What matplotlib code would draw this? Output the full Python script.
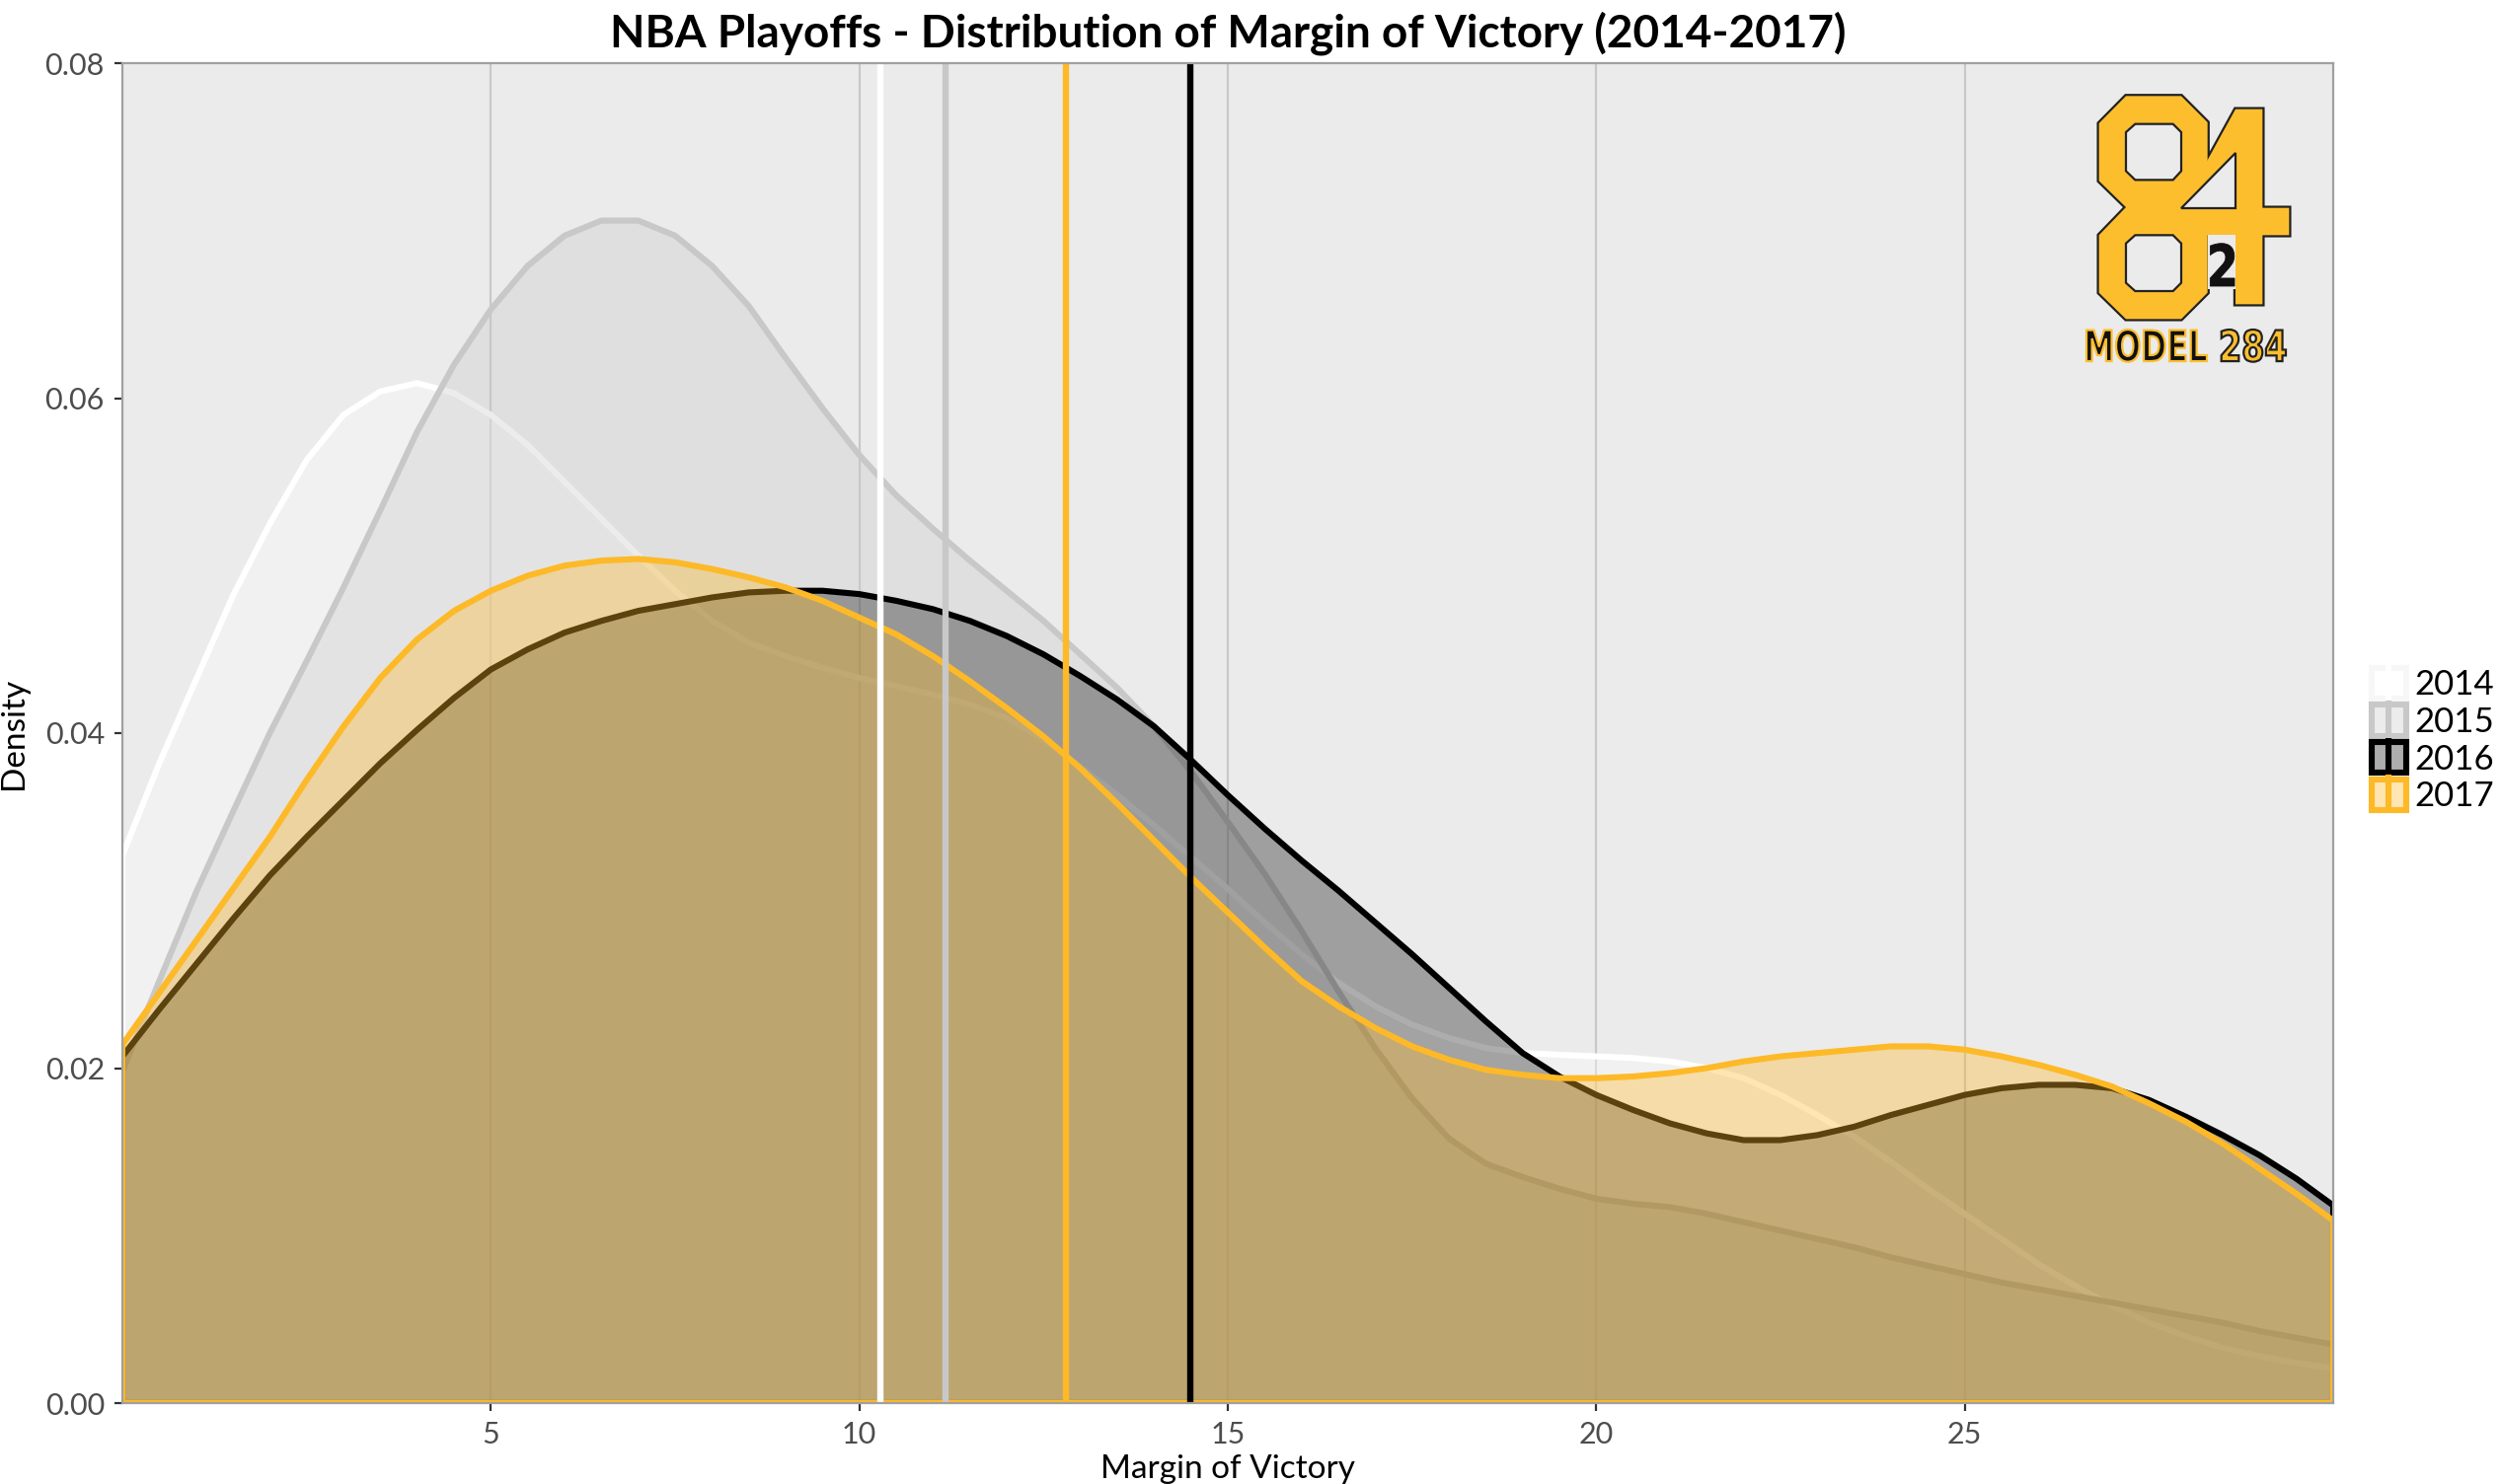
import numpy as np
import matplotlib
matplotlib.use("Agg")
import matplotlib.pyplot as plt
from matplotlib.colors import to_rgba
from matplotlib.patches import Patch, Polygon, PathPatch
from matplotlib.lines import Line2D
from matplotlib.legend_handler import HandlerTuple
from matplotlib.textpath import TextPath
from matplotlib.font_manager import FontProperties
from matplotlib.transforms import Affine2D

plt.rcParams['font.family'] = ['Lato', 'DejaVu Sans']

# density estimates, margin 0..30 in steps of 0.5
margin = list(np.arange(0, 30.5, 0.5))
d2014 = [0.0327, 0.0382, 0.0432, 0.0482, 0.0525, 0.0563, 0.0590, 0.0604, 0.0609, 0.0603,
         0.0590, 0.0572, 0.0550, 0.0528, 0.0506, 0.0485, 0.0467, 0.0454, 0.0446, 0.0439,
         0.0433, 0.0428, 0.0423, 0.0417, 0.0409, 0.0396, 0.0380, 0.0363, 0.0345, 0.0326,
         0.0307, 0.0287, 0.0268, 0.0251, 0.0237, 0.0226, 0.0218, 0.0212, 0.0209, 0.0208,
         0.0207, 0.0206, 0.0204, 0.0200, 0.0194, 0.0184, 0.0172, 0.0159, 0.0144, 0.0128,
         0.0113, 0.0098, 0.0083, 0.0070, 0.0058, 0.0048, 0.0040, 0.0033, 0.0028, 0.0024, 0.0021]
d2015 = [0.0198, 0.0252, 0.0305, 0.0353, 0.0400, 0.0443, 0.0487, 0.0533, 0.0580, 0.0620,
         0.0653, 0.0679, 0.0697, 0.0706, 0.0706, 0.0697, 0.0679, 0.0655, 0.0624, 0.0594,
         0.0566, 0.0542, 0.0522, 0.0503, 0.0485, 0.0467, 0.0447, 0.0427, 0.0404, 0.0377,
         0.0347, 0.0316, 0.0282, 0.0246, 0.0212, 0.0182, 0.0158, 0.0143, 0.0135, 0.0128,
         0.0122, 0.0119, 0.0117, 0.0113, 0.0108, 0.0103, 0.0098, 0.0093, 0.0087, 0.0082,
         0.0077, 0.0072, 0.0068, 0.0064, 0.0060, 0.0056, 0.0052, 0.0048, 0.0043, 0.0039, 0.0035]
d2016 = [0.0207, 0.0235, 0.0262, 0.0289, 0.0315, 0.0338, 0.0360, 0.0382, 0.0402, 0.0421,
         0.0438, 0.0450, 0.0460, 0.0467, 0.0473, 0.0477, 0.0481, 0.0484, 0.0485, 0.0485,
         0.0483, 0.0479, 0.0474, 0.0467, 0.0458, 0.0447, 0.0434, 0.0420, 0.0404, 0.0384,
         0.0363, 0.0343, 0.0324, 0.0306, 0.0287, 0.0268, 0.0248, 0.0228, 0.0209, 0.0195,
         0.0184, 0.0175, 0.0167, 0.0161, 0.0157, 0.0157, 0.0160, 0.0165, 0.0172, 0.0178,
         0.0184, 0.0188, 0.0190, 0.0190, 0.0188, 0.0181, 0.0171, 0.0160, 0.0148, 0.0134, 0.0118]
d2017 = [0.0214, 0.0245, 0.0276, 0.0307, 0.0338, 0.0372, 0.0404, 0.0433, 0.0456, 0.0473,
         0.0485, 0.0494, 0.0500, 0.0503, 0.0504, 0.0502, 0.0498, 0.0493, 0.0487, 0.0479,
         0.0469, 0.0459, 0.0446, 0.0431, 0.0415, 0.0398, 0.0379, 0.0358, 0.0336, 0.0314,
         0.0293, 0.0272, 0.0252, 0.0237, 0.0224, 0.0213, 0.0205, 0.0199, 0.0196, 0.0194,
         0.0194, 0.0195, 0.0197, 0.0200, 0.0204, 0.0207, 0.0209, 0.0211, 0.0213, 0.0213,
         0.0211, 0.0207, 0.0202, 0.0196, 0.0189, 0.0179, 0.0168, 0.0155, 0.0140, 0.0125, 0.0109]

seasons = ['2014', '2015', '2016', '2017']
densities = [d2014, d2015, d2016, d2017]
mean_margin = [10.28, 11.17, 14.49, 12.80]
colors = ['#FFFFFF', '#C8C8C8', '#000000', '#FDB927']
fill_alpha = [0.34, 0.34, 0.32, 0.36]

fig = plt.figure(figsize=(2534 / 200, 1504 / 200), dpi=200)
ax = fig.add_axes([124 / 2534, 1 - 1422 / 1504, 2240 / 2534, 1358 / 1504])
ax.set_facecolor('#EBEBEB')

for i, (dens, c, a) in enumerate(zip(densities, colors, fill_alpha)):
    xs = [margin[0]] + margin + [margin[-1]]
    ys = [0] + dens + [0]
    ax.fill(xs, ys, facecolor=to_rgba(c, a), edgecolor=c, lw=2.2,
            joinstyle='round', zorder=2 + i)

for i, (m, c) in enumerate(zip(mean_margin, colors)):
    ax.axvline(m, color=c, lw=2.3, zorder=10 + i)

ax.set_xlim(0, 30)
ax.set_ylim(0, 0.08)
ax.set_xticks([5, 10, 15, 20, 25])
ax.set_yticks([0, 0.02, 0.04, 0.06, 0.08])
ax.set_yticklabels(['0.00', '0.02', '0.04', '0.06', '0.08'])
ax.grid(axis='x', color='#C8C8C8', lw=0.8, zorder=1)
ax.set_axisbelow(True)
ax.tick_params(colors='#333333', labelcolor='#4D4D4D', labelsize=11, length=3, width=0.8)
for s in ax.spines.values():
    s.set_color('#A0A0A0')
    s.set_linewidth(0.8)
    s.set_zorder(20)

ax.set_xlabel('Margin of Victory', fontsize=12, labelpad=2)
ax.set_ylabel('Density', fontsize=12, labelpad=6)
ax.set_title('NBA Playoffs - Distribution of Margin of Victory (2014-2017)',
             fontsize=16.5, fontweight='bold', pad=6)

# legend: filled key with mean line through it
handles = []
for c, a in zip(colors, fill_alpha):
    key = Patch(facecolor=to_rgba(c, a), edgecolor='#F7F7F7' if c == '#FFFFFF' else c, lw=2.2)
    bar = Line2D([], [], color=c, marker='|', linestyle='None', markersize=13, markeredgewidth=2.2)
    handles.append((key, bar))
fig.legend(handles, seasons, handler_map={tuple: HandlerTuple(ndivide=1)},
           loc='center left', bbox_to_anchor=(2403 / 2534, 1 - 750 / 1504),
           frameon=False, fontsize=12.5, handlelength=1.0, handleheight=1.0,
           labelspacing=0.12, handletextpad=0.25, borderpad=0, borderaxespad=0)

# logo
lg = fig.add_axes([2080 / 2534, 1 - 390 / 1504, 280 / 2534, 330 / 1504])
lg.set_xlim(0, 840)
lg.set_ylim(990, 0)
lg.axis('off')
gold = '#FDBE2E'
bg = '#EBEBEB'
eight = [(140, 195), (222, 112), (390, 112), (470, 192), (470, 370), (395, 450), (470, 530),
         (470, 710), (390, 790), (222, 790), (140, 710), (140, 535), (222, 450), (140, 370)]
four = [(390, 452), (555, 152), (637, 152), (637, 452), (718, 452), (718, 535), (637, 535),
        (637, 745), (555, 745), (555, 535), (390, 535)]
hole_top = [(250, 197), (365, 197), (390, 222), (390, 340), (365, 367), (250, 367), (222, 340), (222, 222)]
hole_bot = [(250, 535), (365, 535), (390, 560), (390, 680), (365, 705), (250, 705), (222, 680), (222, 560)]
hole_tri = [(555, 285), (555, 452), (390, 452)]
for shape in (eight, four):
    lg.add_patch(Polygon(shape, closed=True, facecolor='none', edgecolor='#222222', lw=1.6))
for shape in (eight, four):
    lg.add_patch(Polygon(shape, closed=True, facecolor=gold, edgecolor='none'))
for shape in (hole_top, hole_bot, hole_tri):
    lg.add_patch(Polygon(shape, closed=True, facecolor=bg, edgecolor='#222222', lw=0.8))
lg.add_patch(Polygon([(470, 535), (555, 535), (555, 700), (470, 700)], closed=True,
                     facecolor=bg, edgecolor='none'))


def logo_text(s, box, face, edge, lw):
    fp = FontProperties(family='DejaVu Sans', weight='bold')
    tp = TextPath((0, 0), s, size=100, prop=fp)
    ext = tp.get_extents()
    x0, y0, x1, y1 = box
    sx = (x1 - x0) / ext.width
    sy = (y1 - y0) / ext.height
    tr = Affine2D().translate(-ext.x0, -ext.y0).scale(sx, -sy).translate(x0, y1)
    lg.add_patch(PathPatch(tr.transform_path(tp), facecolor=face, edgecolor=edge, lw=lw))


logo_text('2', (478, 560, 552, 690), '#111111', '#111111', 0.3)
logo_text('MODEL', (102, 822, 468, 920), '#111111', gold, 0.8)
logo_text('284', (512, 822, 708, 920), gold, '#222222', 0.8)

fig.savefig('out.png', dpi=200)
